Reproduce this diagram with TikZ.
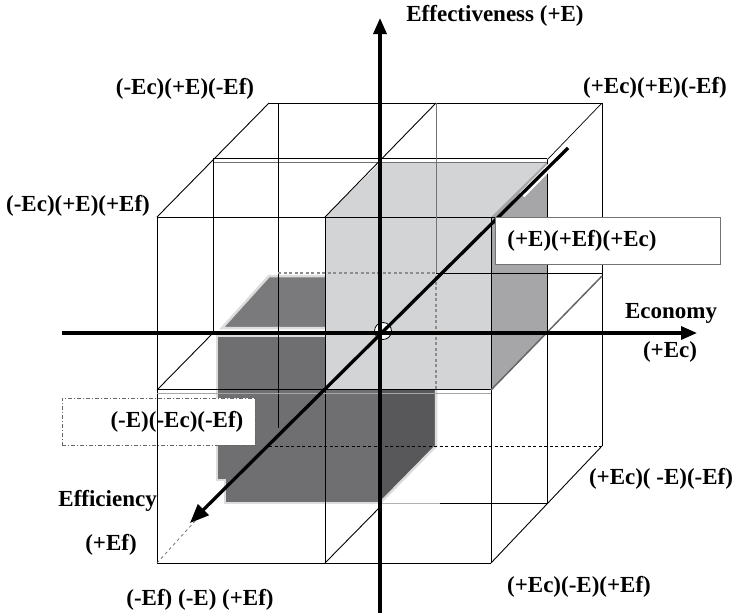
\documentclass[tikz,border=0pt]{standalone}
\usepackage{fontspec}
\setmainfont{Liberation Serif}
\usetikzlibrary{arrows.meta}
\definecolor{lightface}{HTML}{D3D4D6}
\definecolor{sideface}{HTML}{A6A6A8}
\definecolor{darktop}{HTML}{7A7A7C}
\definecolor{darkfront}{HTML}{6F6F71}
\definecolor{darkright}{HTML}{58585A}
\definecolor{halo}{HTML}{DCDCDC}
\begin{document}
\begin{tikzpicture}[x=1pt,y=-1pt,
  grid/.style={black, line width=0.9pt},
  greyline/.style={black!55, line width=0.9pt},
  hidden/.style={black, line width=0.8pt, dash pattern=on 3pt off 2.5pt},
  greyhidden/.style={black!45, line width=1.2pt, dash pattern=on 3pt off 2.5pt},
  axisline/.style={black, line width=3.3pt, -{Triangle[length=16pt,width=13pt]}},
  facebox/.style={draw=halo, line width=2.5pt, line join=miter},
  lab/.style={font=\fontsize{23}{27}\selectfont\bfseries, inner sep=0pt},
  labbox/.style={lab, fill=white, minimum height=47pt, inner xsep=12pt}
]
\useasboundingbox (0,0) rectangle (735,613);
\fill[white] (0,0) rectangle (735,613);

% dark octant (-E)(-Ec)(-Ef)
\filldraw[facebox, fill=darktop] (222,328) -- (269,276) -- (436,276) -- (383,328) -- cycle;
\filldraw[facebox, fill=darkright] (380,333) -- (436,276) -- (436,446) -- (380,503) -- cycle;
\filldraw[facebox, fill=darkfront] (217,336) -- (380,336) -- (380,503) -- (225,503) -- (225,480) -- (217,480) -- cycle;

% light octant (+E)(+Ef)(+Ec)
\fill[lightface] (325,217) -- (381,162) -- (547,162) -- (491,217) -- cycle;
\fill[lightface] (325,217) rectangle (491,390);
\fill[sideface] (491,217) -- (547,162) -- (547,333) -- (491,390) -- cycle;

% dash-dot label box
\node[labbox, draw=black!60, line width=0.8pt, dash pattern=on 4pt off 2pt on 1pt off 2pt,
      text width=169pt, align=right, anchor=north west] (lowbox) at (62,398) {(-E)(-Ec)(-Ef)};

% wire frame
\draw[grid] (269,103) -- (602,103);
\draw[grid] (213,158) -- (547,158);
\draw[greyline] (213,162) -- (547,162);
\draw[grid] (157,217) -- (495,217);
\draw[grid] (157,217) -- (269,103);
\draw[grid] (325,217) -- (436,103);
\draw[grid, line width=0.7pt] (547,160) -- (602,103);
\draw[grid] (157,217) -- (157,563);
\draw[grid] (213,160) -- (213,333);
\draw[grid] (278,103) -- (278,428);
\draw[grid] (325,217) -- (325,563);
\draw[greyline] (436,103) -- (436,273);
\draw[greyhidden] (436,276) -- (436,390);
\draw[grid] (491,217) -- (491,563);
\draw[grid] (547,160) -- (547,503);
\draw[grid] (602,103) -- (602,446);
\draw[greyhidden] (278,273) -- (436,273);
\draw[grid] (436,273) -- (602,273);
\draw[grid] (157,389) -- (491,389);
\draw[black!35, line width=0.9pt] (157,393) -- (491,393);
\draw[grid] (157,390) -- (213,333);
\draw[black!60, line width=1.5pt] (491,390) -- (602,276);
\draw[grid] (325,563) -- (381,506);
\draw[grid] (491,563) -- (602,446);
\draw[hidden] (269,446) -- (602,446);
\draw[black!30, line width=0.9pt] (380,503) -- (440,503);
\draw[grid] (440,503) -- (547,503);
\draw[grid] (157,563) -- (491,563);
\draw[black!55, line width=0.8pt, dash pattern=on 3pt off 3pt] (157,563) -- (275,433);

% origin
\node[circle, draw=black, fill=white, line width=0.8pt, minimum size=17pt, inner sep=0pt] (origin) at (383,331) {};

% axes
\coordinate (ebot) at (380,613);
\coordinate (etop) at (380,18);
\coordinate (cleft) at (62,333);
\coordinate (cright) at (697,333);
\coordinate (fback) at (568,148);
\coordinate (ffront) at (190,523);
\draw[white, line width=6.5pt] (522,195) -- (fback);
\draw[axisline] (ebot) -- (etop);
\draw[axisline] (cleft) -- (cright);
\draw[axisline, -{Triangle[length=19pt,width=15pt]}] (fback) -- (ffront);

% upper label box
\node[labbox, draw=black!55, line width=0.8pt, text width=201pt, align=left, anchor=north west] (upbox) at (495,217) {(+E)(+Ef)(+Ec)};

% labels
\node[lab] (effect) at (495,16) {Effectiveness (+E)};
\node[lab] (l1) at (655,88) {(+Ec)(+E)(-Ef)};
\node[lab] (l2) at (185,89) {(-Ec)(+E)(-Ef)};
\node[lab] (l3) at (78,206) {(-Ec)(+E)(+Ef)};
\node[lab] (econ) at (671,313) {Economy};
\node[lab] (econp) at (670,352) {(+Ec)};
\node[lab] (l4) at (661,479) {(+Ec)( -E)(-Ef)};
\node[lab] (l5) at (579,587) {(+Ec)(-E)(+Ef)};
\node[lab] (l6) at (200,600) {(-Ef) (-E) (+Ef)};
\node[lab, anchor=east] (effic) at (157,501) {Efficiency};
\node[lab] (efficp) at (111,545) {(+Ef)};
\end{tikzpicture}
\end{document}
